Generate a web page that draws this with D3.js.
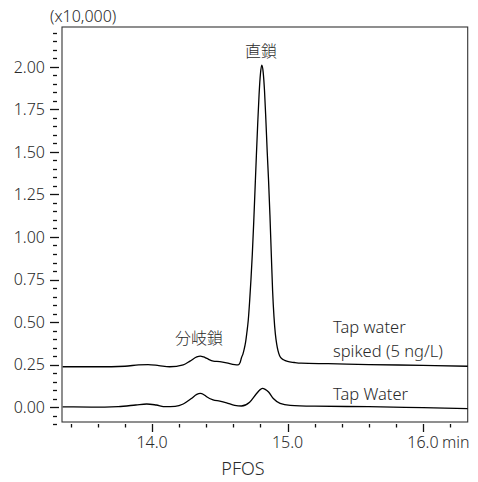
<!DOCTYPE html>
<html>
<head>
<meta charset="utf-8">
<script src="https://cdn.jsdelivr.net/npm/d3@7"></script>
<style>
  body { margin: 0; background: #fff; }
  svg { display: block; }
  text { font-family: "Noto Sans", "Noto Sans CJK JP", sans-serif; fill: #2a2a2a; font-weight: 300; }
</style>
</head>
<body>
<svg id="chart" width="478" height="482"></svg>
<script>
// ---- Data ----
const timesSpiked = [13.34, 13.60, 13.80, 13.90, 13.97, 14.05, 14.13, 14.23, 14.28, 14.33, 14.355, 14.38, 14.404, 14.452, 14.50, 14.55, 14.61, 14.635, 14.65, 14.66, 14.67, 14.68, 14.69, 14.70, 14.71, 14.72, 14.73, 14.74, 14.75, 14.76, 14.77, 14.78, 14.79, 14.80, 14.81, 14.82, 14.83, 14.84, 14.85, 14.86, 14.87, 14.88, 14.89, 14.90, 14.91, 14.92, 14.93, 14.94, 14.95, 14.97, 15.00, 15.05, 15.10, 15.30, 15.60, 16.00, 16.33];
const valuesSpiked = [0.237, 0.237, 0.240, 0.248, 0.250, 0.244, 0.237, 0.248, 0.270, 0.295, 0.300, 0.295, 0.286, 0.270, 0.267, 0.260, 0.249, 0.248, 0.262, 0.290, 0.31, 0.34, 0.38, 0.44, 0.51, 0.62, 0.75, 0.90, 1.08, 1.28, 1.48, 1.67, 1.84, 1.96, 2.01, 1.97, 1.86, 1.69, 1.50, 1.33, 1.13, 0.90, 0.68, 0.53, 0.43, 0.37, 0.33, 0.305, 0.29, 0.278, 0.268, 0.262, 0.258, 0.255, 0.250, 0.245, 0.240];

const timesTap = [13.34, 13.55, 13.75, 13.88, 13.96, 14.03, 14.10, 14.17, 14.23, 14.29, 14.33, 14.355, 14.38, 14.40, 14.45, 14.50, 14.55, 14.61, 14.66, 14.72, 14.77, 14.80, 14.815, 14.835, 14.86, 14.895, 14.945, 15.02, 15.20, 15.60, 16.00, 16.33];
const valuesTap = [0.001, 0.000, 0.003, 0.012, 0.018, 0.012, 0.002, 0.004, 0.018, 0.050, 0.074, 0.080, 0.074, 0.062, 0.042, 0.035, 0.025, 0.010, 0.006, 0.028, 0.078, 0.104, 0.110, 0.104, 0.088, 0.050, 0.022, 0.010, 0.005, 0.002, -0.004, -0.009];

const yTickLabels = [0.00, 0.25, 0.50, 0.75, 1.00, 1.25, 1.50, 1.75, 2.00];
const xTickLabels = [14.0, 15.0, 16.0];

// ---- Layout ----
const svg = d3.select("#chart");
const mLeft = 62, mRight = 467.7, mTop = 27, mBottom = 422;

const x = d3.scaleLinear().domain([13.335, 16.33]).range([mLeft, mRight]);
const y = d3.scaleLinear().domain([-0.088, 2.235]).range([mBottom, mTop]);

// frame
svg.append("rect")
  .attr("x", mLeft).attr("y", mTop)
  .attr("width", mRight - mLeft).attr("height", mBottom - mTop)
  .attr("fill", "none").attr("stroke", "#333").attr("stroke-width", 1.1);

// ---- Y axis (ticks detached to the left of the frame) ----
const yMinor = d3.range(-0.10, 2.2001, 0.05).map(v => +v.toFixed(2));
const gy = svg.append("g");
gy.selectAll("line").data(yMinor).join("line")
  .attr("x1", v => yTickLabels.includes(v) ? 50 : 53)
  .attr("x2", v => yTickLabels.includes(v) ? 59 : 57)
  .attr("y1", v => Math.round(y(v)) + 0.5)
  .attr("y2", v => Math.round(y(v)) + 0.5)
  .attr("stroke", "#111").attr("stroke-width", 1.3);
gy.selectAll("text").data(yTickLabels).join("text")
  .attr("x", 45).attr("y", v => y(v))
  .attr("dy", "0.36em")
  .attr("text-anchor", "end")
  .attr("font-size", 16)
  .text(d3.format(".2f"));

// ---- X axis ----
const xMinor = d3.range(13.4, 16.2001, 0.2).map(v => +v.toFixed(1));
const gx = svg.append("g");
gx.selectAll("line").data(xMinor).join("line")
  .attr("x1", t => Math.round(x(t)) + 0.5)
  .attr("x2", t => Math.round(x(t)) + 0.5)
  .attr("y1", 424)
  .attr("y2", t => xTickLabels.includes(t) ? 432 : 427.5)
  .attr("stroke", "#111").attr("stroke-width", 1.3);
gx.selectAll("text").data(xTickLabels).join("text")
  .attr("x", t => x(t)).attr("y", 448)
  .attr("text-anchor", "middle")
  .attr("font-size", 16)
  .text(d3.format(".1f"));
svg.append("text").attr("x", 442).attr("y", 448).attr("font-size", 16).text("min");

// ---- Traces ----
const line = d3.line()
  .x(d => x(d[0])).y(d => y(d[1]))
  .curve(d3.curveMonotoneX);

svg.append("path")
  .datum(timesTap.map((t, i) => [t, valuesTap[i]]))
  .attr("d", line).attr("fill", "none")
  .attr("stroke", "#000").attr("stroke-width", 1.3);

svg.append("path")
  .datum(timesSpiked.map((t, i) => [t, valuesSpiked[i]]))
  .attr("d", line).attr("fill", "none")
  .attr("stroke", "#000").attr("stroke-width", 1.3);

// ---- Labels ----
svg.append("text").attr("x", 50).attr("y", 22).attr("font-size", 16).text("(x10,000)");
svg.append("text").attr("x", 243).attr("y", 475).attr("text-anchor", "middle").attr("font-size", 18).text("PFOS");
svg.append("text").attr("x", 261).attr("y", 57).attr("text-anchor", "middle").attr("font-size", 16).text("直鎖");
svg.append("text").attr("x", 199).attr("y", 344).attr("text-anchor", "middle").attr("font-size", 16).text("分岐鎖");
svg.append("text").attr("x", 333).attr("y", 333).attr("font-size", 16.5).text("Tap water");
svg.append("text").attr("x", 333).attr("y", 357).attr("font-size", 16.5).text("spiked (5 ng/L)");
svg.append("text").attr("x", 333).attr("y", 400).attr("font-size", 16.5).text("Tap Water");
</script>
</body>
</html>
